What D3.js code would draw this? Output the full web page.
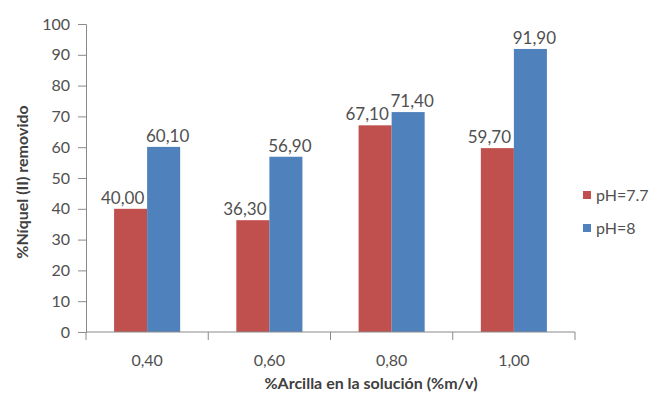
<!DOCTYPE html>
<html>
<head>
<meta charset="utf-8">
<script src="https://cdn.jsdelivr.net/npm/d3@7"></script>
<style>
  html, body { margin: 0; padding: 0; background: #fff; }
  svg text { font-family: Lato, "Open Sans", sans-serif; }
</style>
</head>
<body>
<svg id="chart" width="653" height="394"></svg>
<script>
// Clay concentration (%m/v) on the x axis
const categories = ["0,40", "0,60", "0,80", "1,00"];
const seriesNames = ["pH=7.7", "pH=8"];
const ph77 = [40.00, 36.30, 67.10, 59.70];
const ph8 = [60.10, 56.90, 71.40, 91.90];
const yTicks = [0, 10, 20, 30, 40, 50, 60, 70, 80, 90, 100];
const colors = ["#C0504D", "#4F81BD"];

const series = [ph77, ph8];
const fmt = v => v.toFixed(2).replace(".", ",");

const svg = d3.select("#chart");
const plotLeft = 86, plotRight = 575, plotTop = 24, plotBottom = 332;

const x = d3.scaleBand().domain(categories).range([plotLeft, plotRight]).paddingInner(0).paddingOuter(0);
const xs = d3.scaleBand().domain(seriesNames).range([0, x.bandwidth()]).paddingInner(0).paddingOuter(0.85);
const y = d3.scaleLinear().domain([0, 100]).range([plotBottom, plotTop]);

const axisColor = "#8a8a8a";
const textColor = "#505050";

// Y axis
const yAxis = svg.append("g")
  .attr("transform", `translate(${plotLeft},0)`)
  .call(d3.axisLeft(y).tickValues(yTicks).tickSize(8).tickPadding(8).tickFormat(d3.format("d")));
yAxis.select(".domain").attr("stroke", axisColor);
yAxis.selectAll(".tick line").attr("stroke", axisColor);
yAxis.selectAll(".tick text").attr("fill", textColor).style("font-size", "16px");

// Bars
categories.forEach((c, i) => {
  series.forEach((vals, s) => {
    svg.append("rect")
      .attr("x", x(c) + xs(seriesNames[s]))
      .attr("y", y(vals[i]))
      .attr("width", xs.bandwidth())
      .attr("height", y(0) - y(vals[i]))
      .attr("fill", colors[s]);
  });
});

// Value labels, nudged apart so adjacent labels do not collide
const nudge = [-8, 4];
categories.forEach((c, i) => {
  series.forEach((vals, s) => {
    svg.append("text")
      .attr("x", x(c) + xs(seriesNames[s]) + xs.bandwidth() / 2 + nudge[s])
      .attr("y", y(vals[i]) - 5)
      .attr("text-anchor", "middle")
      .attr("fill", textColor)
      .style("font-size", "17px")
      .text(fmt(vals[i]));
  });
});

// X axis with ticks on category boundaries
const xg = svg.append("g");
xg.append("line")
  .attr("x1", plotLeft).attr("x2", plotRight).attr("y1", plotBottom).attr("y2", plotBottom)
  .attr("stroke", axisColor);
const bounds = categories.map(c => x(c)).concat([x(categories[categories.length - 1]) + x.bandwidth()]);
xg.selectAll(".bt").data(bounds).enter().append("line")
  .attr("x1", d => d).attr("x2", d => d)
  .attr("y1", plotBottom).attr("y2", plotBottom + 8)
  .attr("stroke", axisColor);
xg.selectAll(".cl").data(categories).enter().append("text")
  .attr("x", d => x(d) + x.bandwidth() / 2)
  .attr("y", 366)
  .attr("text-anchor", "middle")
  .attr("fill", textColor)
  .style("font-size", "16px")
  .text(d => d);

// Axis titles
svg.append("text")
  .attr("x", 371).attr("y", 389)
  .attr("text-anchor", "middle")
  .attr("fill", "#404040")
  .style("font-size", "16px").style("font-weight", "bold")
  .text("%Arcilla en la solución (%m/v)");

svg.append("text")
  .attr("transform", "translate(28,182) rotate(-90)")
  .attr("text-anchor", "middle")
  .attr("fill", "#404040")
  .style("font-size", "16px").style("font-weight", "bold")
  .text("%Níquel (II) removido");

// Legend
const legendY = [195, 228];
seriesNames.forEach((name, s) => {
  svg.append("rect")
    .attr("x", 583).attr("y", legendY[s] - 4)
    .attr("width", 8).attr("height", 8)
    .attr("fill", colors[s]);
  svg.append("text")
    .attr("x", 596).attr("y", legendY[s] + 6)
    .attr("fill", textColor)
    .style("font-size", "16px")
    .text(name);
});
</script>
</body>
</html>
